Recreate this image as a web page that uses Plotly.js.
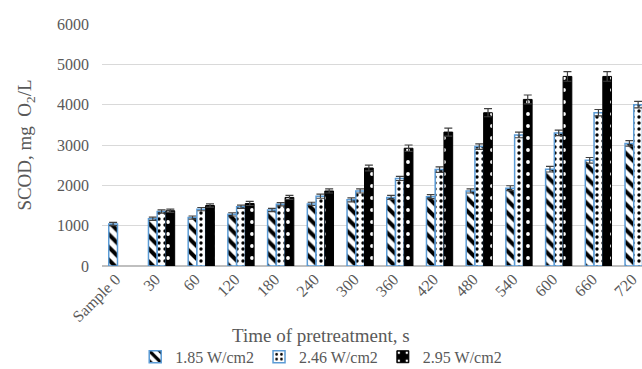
<!DOCTYPE html>
<html>
<head>
<meta charset="utf-8">
<script src="https://cdn.plot.ly/plotly-3.0.1.min.js"></script>
<style>
  html, body { margin: 0; padding: 0; overflow: hidden; background: #fff; }
  #chart { width: 672px; height: 369px; }
</style>
</head>
<body>
<div id="chart"></div>
<script>
// Pretreatment times (x categories)
const categories = ['Sample 0', '30', '60', '120', '180', '240', '300', '360', '420', '480', '540', '600', '660', '720'];

// Soluble COD, mg O2/L, for each ultrasound power density
const scod185 = [1040, 1170, 1200, 1280, 1390, 1540, 1640, 1700, 1720, 1860, 1930, 2400, 2620, 3040];
const scod246 = [null, 1350, 1410, 1470, 1530, 1730, 1860, 2170, 2390, 2960, 3250, 3300, 3800, 4000];
const scod295 = [null, 1370, 1500, 1550, 1700, 1860, 2430, 2920, 3320, 3800, 4130, 4700, 4700, 4600];

// Standard deviations
const err185 = [40, 40, 40, 40, 40, 40, 50, 50, 50, 50, 60, 70, 70, 70];
const err246 = [null, 40, 40, 40, 40, 50, 50, 50, 70, 70, 70, 70, 80, 80];
const err295 = [null, 40, 40, 50, 50, 50, 70, 80, 100, 100, 110, 120, 120, 120];

const seriesNames = ['1.85 W/cm2', '2.46 W/cm2', '2.95 W/cm2'];

const serif = 'Liberation Serif, Times New Roman, serif';
const textGray = '#595959';

function errBars(arr) {
  return { type: 'data', array: arr, visible: true, color: '#404040', thickness: 1.2, width: 4 };
}

const traces = [
  {
    type: 'bar', name: seriesNames[0], x: categories, y: scod185,
    error_y: errBars(err185),
    marker: {
      color: '#ffffff',
      line: { color: '#5b9bd5', width: 1.5 },
      pattern: { shape: '\\', fgcolor: '#000000', bgcolor: '#ffffff', size: 9, solidity: 0.45 }
    }
  },
  {
    type: 'bar', name: seriesNames[1], x: categories, y: scod246,
    error_y: errBars(err246),
    marker: {
      color: '#ffffff',
      line: { color: '#5b9bd5', width: 1.5 },
      pattern: { shape: '.', fgcolor: '#000000', bgcolor: '#ffffff', size: 6, solidity: 0.25 }
    }
  },
  {
    type: 'bar', name: seriesNames[2], x: categories, y: scod295,
    error_y: errBars(err295),
    marker: {
      color: '#000000',
      line: { color: '#000000', width: 1 },
      pattern: { shape: '.', fgcolor: '#ffffff', bgcolor: '#000000', size: 12, solidity: 0.08 }
    }
  }
];

const layout = {
  width: 672,
  height: 369,
  margin: { l: 102, r: 14, t: 24, b: 103, autoexpand: false },
  paper_bgcolor: '#ffffff',
  plot_bgcolor: '#ffffff',
  barmode: 'group',
  bargap: 0.34,
  bargroupgap: 0,
  showlegend: true,
  font: { family: serif, color: textGray },
  xaxis: {
    type: 'category',
    automargin: false,
    tickangle: -45,
    ticklabelshift: -6,
    tickfont: { family: serif, size: 16, color: textGray },
    showgrid: false,
    showline: false,
    ticks: '',
    zeroline: false
  },
  yaxis: {
    range: [0, 6000],
    dtick: 1000,
    automargin: false,
    tickfont: { family: serif, size: 16, color: textGray },
    gridcolor: '#d9d9d9',
    gridwidth: 1,
    zeroline: true,
    zerolinecolor: '#bfbfbf',
    zerolinewidth: 1.5,
    showline: false,
    ticks: '',
    ticklabelstandoff: 12,
    title: {
      text: 'SCOD, mg&nbsp; O<sub>2</sub>/L',
      font: { family: serif, size: 19, color: textGray },
      standoff: 20
    }
  },
  legend: {
    orientation: 'h',
    xref: 'container', yref: 'container',
    x: 0.478, xanchor: 'center',
    y: 0.033, yanchor: 'middle',
    font: { family: serif, size: 16, color: textGray },
    itemwidth: 30,
    tracegroupgap: 0
  },
  annotations: [
    {
      text: 'Time of pretreatment, s',
      xref: 'paper', yref: 'paper',
      x: 0.393, y: -0.289,
      xanchor: 'center', yanchor: 'middle',
      showarrow: false,
      font: { family: serif, size: 19, color: textGray }
    }
  ]
};

Plotly.newPlot('chart', traces, layout, { displayModeBar: false, staticPlot: true });
</script>
</body>
</html>
